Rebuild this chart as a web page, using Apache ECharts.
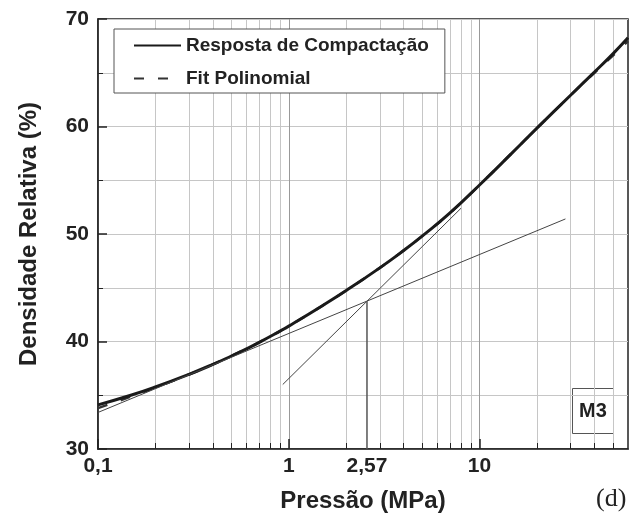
<!DOCTYPE html>
<html>
<head>
<meta charset="utf-8">
<script src="https://cdn.jsdelivr.net/npm/echarts@6/dist/echarts.min.js"></script>
<style>html,body{margin:0;padding:0;background:#fff;}#c{width:638px;height:523px;}</style>
</head>
<body>
<div id="c"></div>
<script>
// ---- data ----
const pressure = [0.1, 0.15, 0.2, 0.3, 0.4, 0.5, 0.6, 0.7, 0.9, 1, 1.5, 2, 3, 4, 5, 7, 10, 15, 20, 30, 40, 50, 60];
const responseDensity = [34.1, 35.02, 35.77, 36.95, 37.87, 38.65, 39.32, 39.92, 40.97, 41.43, 43.33, 44.74, 46.85, 48.46, 49.8, 51.96, 54.56, 57.64, 59.85, 62.91, 65.06, 66.76, 68.25];
const fitDensity = [33.8, 34.9, 35.72, 36.93, 37.87, 38.65, 39.32, 39.92, 40.97, 41.43, 43.33, 44.74, 46.85, 48.46, 49.8, 51.96, 54.56, 57.64, 59.85, 62.9, 65.0, 66.6, 67.95];
const tangentLowP = [0.1, 28.2];
const tangentLowD = [33.4, 51.4];
const tangentHighP = [0.93, 8];
const tangentHighD = [36.0, 52.4];
const yieldP = 2.57;
const yieldD = 43.75;
const majorTicksX = [0.1, 1, 10];
const minorTicksX = [0.2, 0.3, 0.4, 0.5, 0.6, 0.7, 0.8, 0.9, 2, 3, 4, 5, 6, 7, 8, 9, 20, 30, 40, 50];
const labelTicksX = [0.1, 1, 2.57, 10];
const seriesNames = ['Resposta de Compactação', 'Fit Polinomial'];

const FONT = 'Liberation Sans, Arial, sans-serif';
const zip = (xs, ys) => xs.map((x, i) => [x, ys[i]]);

const chart = echarts.init(document.getElementById('c'), null, {renderer: 'canvas'});
chart.setOption({
  animation: false,
  backgroundColor: '#fff',
  grid: {left: 98, right: 10, top: 19, bottom: 74, show: true, borderColor: '#222', borderWidth: 1.5, backgroundColor: 'transparent'},
  legend: {
    orient: 'vertical', left: 114, top: 29,
    data: seriesNames,
    itemWidth: 47, itemHeight: 14, itemGap: 14,
    padding: [7, 16, 5, 19],
    borderColor: '#555', borderWidth: 1, backgroundColor: '#fff',
    itemStyle: {opacity: 0},
    textStyle: {fontFamily: FONT, fontSize: 19, fontWeight: 'bold', color: '#222'}
  },
  xAxis: [
    {
      type: 'log', logBase: 10, min: 0.1, max: 60, position: 'bottom',
      name: 'Pressão (MPa)', nameLocation: 'middle', nameGap: 40,
      nameTextStyle: {fontFamily: FONT, fontSize: 24, fontWeight: 'bold', color: '#222'},
      axisLine: {show: true, lineStyle: {color: '#222', width: 1.5}},
      axisTick: {show: true, inside: true, length: 10, customValues: majorTicksX, lineStyle: {color: '#222', width: 1.5}},
      axisLabel: {show: true, margin: 7, customValues: labelTicksX, fontFamily: FONT, fontSize: 21, fontWeight: 'bold', color: '#222',
        formatter: v => String(+v.toPrecision(3)).replace('.', ',')},
      splitLine: {show: true, lineStyle: {color: '#999', width: 1}},
      minorTick: {show: false}
    },
    {
      type: 'log', logBase: 10, min: 0.1, max: 60, position: 'bottom', gridIndex: 0,
      axisLine: {show: false},
      axisTick: {show: true, inside: true, length: 6, customValues: minorTicksX, lineStyle: {color: '#222', width: 1}},
      axisLabel: {show: false},
      splitLine: {show: true, lineStyle: {color: '#c6c6c6', width: 1}}
    }
  ],
  yAxis: {
    type: 'value', min: 30, max: 70, interval: 10,
    name: 'Densidade Relativa (%)', nameLocation: 'middle', nameGap: 57,
    nameTextStyle: {fontFamily: FONT, fontSize: 24, fontWeight: 'bold', color: '#222'},
    axisLine: {show: true, lineStyle: {color: '#222', width: 1.5}},
    axisTick: {show: true, inside: true, length: 9, lineStyle: {color: '#222', width: 1.5}},
    minorTick: {show: true, splitNumber: 2, length: 5, lineStyle: {color: '#222', width: 1}},
    axisLabel: {margin: 9, fontFamily: FONT, fontSize: 21, fontWeight: 'bold', color: '#222'},
    splitLine: {show: true, lineStyle: {color: '#c6c6c6', width: 1}},
    minorSplitLine: {show: true, lineStyle: {color: '#c6c6c6', width: 1}}
  },
  series: [
    {
      name: seriesNames[1], type: 'line', xAxisIndex: 0, smooth: 0.5, symbol: 'none',
      data: zip(pressure, fitDensity),
      itemStyle: {color: '#333'},
      lineStyle: {color: '#333', width: 2.5, type: [10, 14]}, z: 3
    },
    {
      name: seriesNames[0], type: 'line', xAxisIndex: 0, smooth: 0.5, symbol: 'none',
      data: zip(pressure, responseDensity),
      itemStyle: {color: '#1a1a1a'},
      lineStyle: {color: '#1a1a1a', width: 3}, z: 4
    },
    {
      name: 'tangente 1', type: 'line', xAxisIndex: 0, symbol: 'none',
      data: zip(tangentLowP, tangentLowD),
      lineStyle: {color: '#444', width: 1}, z: 5
    },
    {
      name: 'tangente 2', type: 'line', xAxisIndex: 0, symbol: 'none',
      data: zip(tangentHighP, tangentHighD),
      lineStyle: {color: '#444', width: 1}, z: 5
    },
    {
      name: 'pressão de escoamento', type: 'line', xAxisIndex: 0, symbol: 'none',
      data: [[yieldP, 30], [yieldP, yieldD]],
      lineStyle: {color: '#555', width: 1.5}, z: 5
    }
  ],
  graphic: [
    {
      type: 'group', left: 572, top: 388, z: 10,
      children: [
        {type: 'rect', shape: {x: 0, y: 0, width: 41, height: 45}, style: {fill: '#fff', stroke: '#555', lineWidth: 1}},
        {type: 'text', x: 20.5, y: 23, style: {text: 'M3', fontFamily: FONT, fontSize: 20, fontWeight: 'bold', fill: '#222', align: 'center', verticalAlign: 'middle'}}
      ]
    },
    {
      type: 'text', left: 596, top: 486, z: 10,
      style: {text: '(d)', fontFamily: 'Liberation Serif, Times New Roman, serif', fontSize: 26, fill: '#222'}
    }
  ]
});
</script>
</body>
</html>
